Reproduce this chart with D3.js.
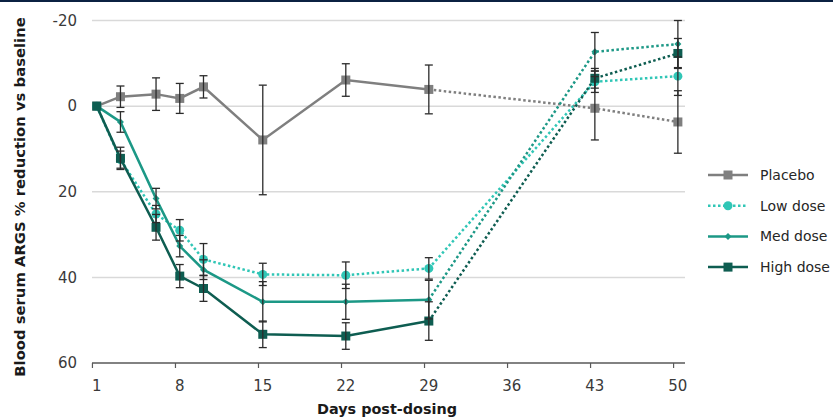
<!DOCTYPE html>
<html>
<head>
  <meta http-equiv="Content-Type" content="text/html; charset=utf-8"/>
  <title>ARGS reduction</title>
  <script src="https://d3js.org/d3.v7.min.js"></script>
  <style>
    body { margin: 0; background: #fff; }
    svg { display: block; }
    text { font-family: "DejaVu Sans", Verdana, sans-serif; fill: #3a3a3a; }
  </style>
</head>
<body>
<svg></svg>
<script>

const days = [1, 3, 6, 8, 10, 15, 22, 29, 43, 50];
const xTicks = [1, 8, 15, 22, 29, 36, 43, 50];
const yTicks = [-20, 0, 20, 40, 60];

const placebo    = [0, -2.2, -2.8, -1.8, -4.5, 7.9, -6.1, -3.9, 0.5, 3.7];
const placeboErr = [0, 2.5, 3.8, 3.5, 2.6, 12.8, 3.8, 5.7, 7.4, 7.3];
const lowDose    = [0, 12.5, 25.2, 29, 35.8, 39.3, 39.5, 37.9, -5.7, -7];
const lowErr     = [0, 2, 2, 2.5, 3.7, 2.6, 3.1, 2.5, 2.5, 4.5];
const medDose    = [0, 3.7, 21.6, 32.7, 38.2, 45.7, 45.7, 45.2, -12.7, -14.5];
const medErr     = [0, 2.4, 2.4, 2.5, 2.3, 4.7, 4.1, 4.5, 4.5, 5.5];
const highDose   = [0, 12.2, 28.3, 39.7, 42.6, 53.3, 53.7, 50.2, -6.5, -12.3];
const highErr    = [0, 2.6, 3, 2.7, 3, 3.1, 3.1, 4.5, 2.3, 3.5];

const series = [
  {name: "Placebo",   values: placebo,  err: placeboErr, color: "#7f7f7f", marker: "square",  size: 9, allDotted: false},
  {name: "Low dose",  values: lowDose,  err: lowErr,     color: "#30c6b6", marker: "circle",  size: 9, allDotted: true},
  {name: "Med dose",  values: medDose,  err: medErr,     color: "#1c9886", marker: "diamond", size: 7, allDotted: false},
  {name: "High dose", values: highDose, err: highErr,    color: "#0e5d51", marker: "square",  size: 9, allDotted: false}
];

const width = 833, height = 419;
const svg = d3.select("svg").attr("width", width).attr("height", height);

// thin navy band at the very top
svg.append("rect").attr("x", 0).attr("y", 0).attr("width", width).attr("height", 2).attr("fill", "#0b2142");

const x = d3.scaleLinear().domain([0.6, 50.6]).range([92, 685]);
const y = d3.scaleLinear().domain([-20, 60]).range([20.5, 363]);

// gridlines
svg.append("g")
  .selectAll("line")
  .data(yTicks.filter(t => t < 60))
  .join("line")
    .attr("x1", x(0.6)).attr("x2", x(50.6))
    .attr("y1", d => y(d)).attr("y2", d => y(d))
    .attr("stroke", "#d9d9d9")
    .attr("stroke-width", 1.5);

// y tick labels
svg.append("g")
  .selectAll("text")
  .data(yTicks)
  .join("text")
    .attr("x", 77)
    .attr("y", d => y(d))
    .attr("dy", "0.35em")
    .attr("text-anchor", "end")
    .style("font-size", "15px")
    .text(d => d);

// x axis
const xAxis = svg.append("g").attr("transform", `translate(0,${y(60)})`);
xAxis.append("line")
  .attr("x1", x(0.6)).attr("x2", x(50.6))
  .attr("stroke", "#595959").attr("stroke-width", 1.5);
xAxis.selectAll(".tick")
  .data(xTicks)
  .join("line")
    .attr("class", "tick")
    .attr("x1", d => x(d) - 4.3).attr("x2", d => x(d) - 4.3)
    .attr("y1", 0).attr("y2", 5)
    .attr("stroke", "#595959").attr("stroke-width", 1.2);
xAxis.selectAll(".lbl")
  .data(xTicks)
  .join("text")
    .attr("class", "lbl")
    .attr("x", d => x(d))
    .attr("y", 23)
    .attr("dy", "0.35em")
    .attr("text-anchor", "middle")
    .style("font-size", "15px")
    .text(d => d);

// axis titles
svg.append("text")
  .attr("x", 387).attr("y", 409)
  .attr("dy", "0.35em")
  .attr("text-anchor", "middle")
  .style("font-size", "14.4px").style("font-weight", "bold").style("fill", "#1a1a1a")
  .text("Days post-dosing");

svg.append("text")
  .attr("transform", "translate(20,197) rotate(-90)")
  .attr("dy", "0.35em")
  .attr("text-anchor", "middle")
  .style("font-size", "14.8px").style("font-weight", "bold").style("fill", "#1a1a1a")
  .text("Blood serum ARGS % reduction vs baseline");

const line = d3.line().x(d => x(d.day)).y(d => y(d.v));

function markerPath(type, size) {
  const s = size / 2;
  if (type === "square") return `M${-s},${-s}h${size}v${size}h${-size}Z`;
  if (type === "diamond") return `M0,${-s}L${s},0L0,${s}L${-s},0Z`;
  return d3.symbol(d3.symbolCircle, Math.PI * s * s)();
}

const dots = "2.5 2.5";

series.forEach(s => {
  const pts = days.map((d, i) => ({day: d, v: s.values[i], e: s.err[i]}));
  const g = svg.append("g");

  const solidPts = pts.slice(0, 8);
  const tailPts = pts.slice(7);

  g.append("path")
    .attr("d", line(solidPts))
    .attr("fill", "none")
    .attr("stroke", s.color)
    .attr("stroke-width", 2.5)
    .attr("stroke-dasharray", s.allDotted ? dots : null);

  g.append("path")
    .attr("d", line(tailPts))
    .attr("fill", "none")
    .attr("stroke", s.color)
    .attr("stroke-width", 2.5)
    .attr("stroke-dasharray", dots);

  s.pts = pts;
  s.g = g;
});

series.forEach(s => {
  s.g.selectAll(".mk")
    .data(s.pts)
    .join("path")
      .attr("class", "mk")
      .attr("transform", d => `translate(${x(d.day)},${y(d.v)})`)
      .attr("d", markerPath(s.marker, s.size))
      .attr("fill", s.color);
});

// error bars on top
series.forEach(s => {
  const eb = svg.append("g")
    .attr("stroke", "#2b2b2b")
    .attr("stroke-width", 1.3);
  s.pts.filter(d => d.e > 0).forEach(d => {
    const cx = x(d.day);
    eb.append("line").attr("x1", cx).attr("x2", cx)
      .attr("y1", y(d.v - d.e)).attr("y2", y(d.v + d.e));
    [d.v - d.e, d.v + d.e].forEach(v => {
      eb.append("line").attr("x1", cx - 4).attr("x2", cx + 4)
        .attr("y1", y(v)).attr("y2", y(v));
    });
  });
});

// legend
const legend = svg.append("g")
  .selectAll("g")
  .data(series)
  .join("g")
    .attr("transform", (d, i) => `translate(708,${175 + i * 30.7})`);

legend.append("line")
  .attr("x1", 0).attr("x2", 40)
  .attr("stroke", d => d.color)
  .attr("stroke-width", 2.5)
  .attr("stroke-dasharray", d => d.allDotted ? dots : null);

legend.append("path")
  .attr("transform", "translate(20,0)")
  .attr("d", d => markerPath(d.marker, d.size))
  .attr("fill", d => d.color);

legend.append("text")
  .attr("x", 52)
  .attr("dy", "0.35em")
  .style("font-size", "14px")
  .style("fill", "#262626")
  .text(d => d.name);

</script>
</body>
</html>
